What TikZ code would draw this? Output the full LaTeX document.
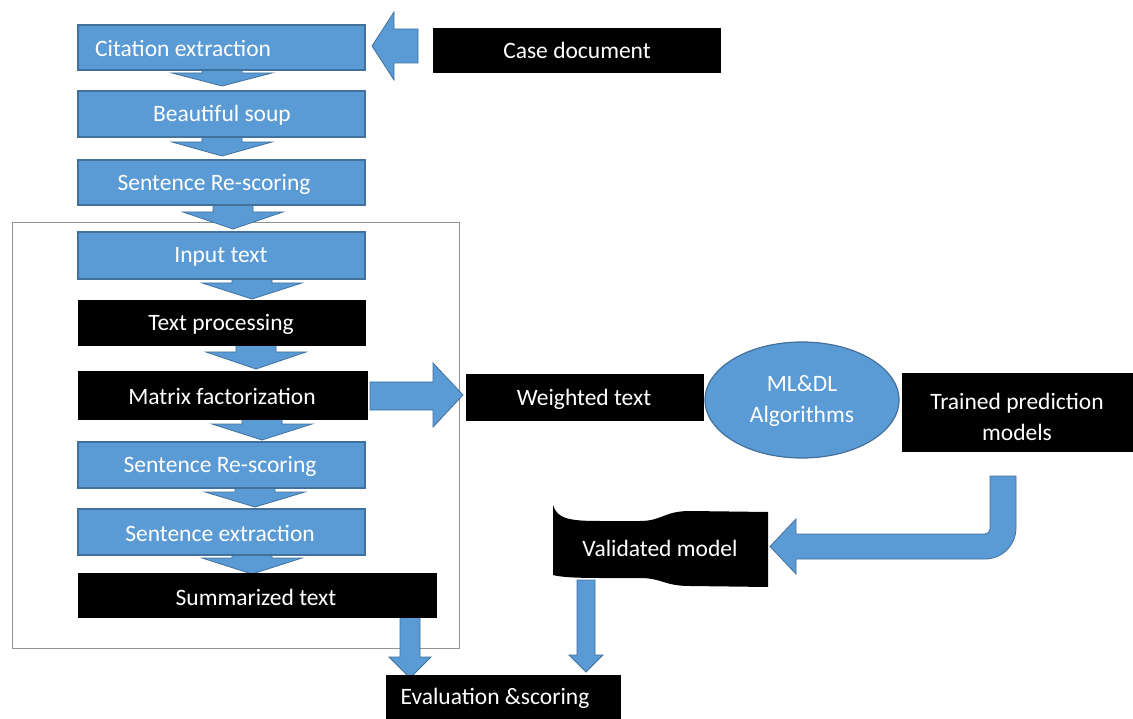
\documentclass[tikz,border=0pt]{standalone}
\usepackage{fontspec}
\setmainfont{Carlito}
\usetikzlibrary{shapes.geometric}
\definecolor{obl}{HTML}{5B9BD5}
\definecolor{obd}{HTML}{41719C}
\tikzset{
  bluebox/.style={draw=obd, line width=1.2pt, fill=obl, inner sep=0pt},
  blackbox/.style={draw=black, fill=black, inner sep=0pt},
  txt/.style={text=white, font=\fontsize{23.5}{31}\selectfont, inner sep=0pt, align=center},
  barrow/.style={fill=obl, draw=obd, line width=0.8pt, line join=miter},
  framebox/.style={draw=gray!85, line width=1pt}
}
% #1 centre x, #2 top y, #3 head base y, #4 tip y, #5 shaft half width, #6 head half width
\newcommand\dnblock[6]{%
  \filldraw[barrow] ({#1-#5},#2) -- ({#1-#5},#3) -- ({#1-#6},#3) -- (#1,#4) -- ({#1+#6},#3) -- ({#1+#5},#3) -- ({#1+#5},#2) -- cycle;}
\begin{document}
\begin{tikzpicture}[x=1pt,y=-1pt]
\useasboundingbox (0,0) rectangle (1133,719);
\fill[white] (0,0) rectangle (1133,719);

% frame
\draw[framebox] (12,223) rectangle (459,648);

% down block arrows in the left column
\dnblock{222}{68}{73}{86}{20}{50}
\dnblock{222}{135}{142}{156}{20}{50}
\dnblock{233}{203}{212}{229}{20}{50}
\dnblock{252}{277}{283}{299}{20}{50}
\dnblock{256}{343}{352}{369}{20}{50}
\dnblock{262}{417}{424}{440}{20}{50}
\dnblock{255}{486}{492}{507}{20}{50}
\dnblock{252}{553}{558}{574}{20}{50}
\dnblock{410}{614}{657}{678}{10}{21}
\dnblock{586}{580}{655}{672}{9}{17}

% case document -> citation extraction
\filldraw[barrow] (418,29) -- (394,29) -- (394,12) -- (372,46) -- (394,80) -- (394,63) -- (418,63) -- cycle;
% matrix factorization -> weighted text
\filldraw[barrow] (370,382) -- (433,382) -- (433,363) -- (463,395) -- (433,427) -- (433,410) -- (370,410) -- cycle;
% trained prediction models -> validated model (bent arrow)
\filldraw[barrow] (990,476) -- (1016,476) -- (1016,528)
  .. controls (1016,545.1) and (1002.1,559) .. (985,559)
  -- (796,559) -- (796,574) -- (770,546.5) -- (796,519) -- (796,534) -- (985,534)
  .. controls (987.8,534) and (990,531.8) .. (990,529) -- cycle;

% blue boxes
\node[bluebox, minimum width=287pt, minimum height=45pt] (cit) at (221.5,47.5) {};
\node[txt, anchor=west] (citt) at (95,48) {Citation extraction};
\node[bluebox, minimum width=287pt, minimum height=46pt] (soup) at (221.5,114) {};
\node[txt] at (222,115) {Beautiful soup};
\node[bluebox, minimum width=287pt, minimum height=45pt] (rs1) at (221.5,182.5) {};
\node[txt] at (214,184) {Sentence Re-scoring};
\node[bluebox, minimum width=287pt, minimum height=47pt] (inp) at (221.5,255.5) {};
\node[txt] at (221,257) {Input text};
\node[bluebox, minimum width=287pt, minimum height=46pt] (rs2) at (221.5,465) {};
\node[txt] at (220,466) {Sentence Re-scoring};
\node[bluebox, minimum width=287pt, minimum height=46pt] (se) at (221.5,532) {};
\node[txt] at (220,533) {Sentence extraction};

% black boxes
\node[blackbox, minimum width=287pt, minimum height=45pt] (tp) at (221.5,322.5) {};
\node[txt] at (221,324) {Text processing};
\node[blackbox, minimum width=289pt, minimum height=48pt] (mf) at (222.5,395) {};
\node[txt] at (222,396) {Matrix factorization};
\node[blackbox, minimum width=358pt, minimum height=44pt] (sum) at (257,595) {};
\node[txt] at (256,597) {Summarized text};
\node[blackbox, minimum width=287pt, minimum height=44pt] (case) at (576.5,50) {};
\node[txt] at (577,50) {Case document};
\node[blackbox, minimum width=237pt, minimum height=46pt] (wt) at (584.5,397) {};
\node[txt] at (584,399) {Weighted text};
\node[blackbox, minimum width=231pt, minimum height=78pt] (tr) at (1017.5,412) {};
\node[txt] at (1017,417) {Trained prediction\\models};
\node[blackbox, minimum width=234pt, minimum height=46pt] (ev) at (503,698) {};
\node[txt] at (495,698) {Evaluation \&scoring};

% ellipse
\node[ellipse, draw=obd, line width=1.2pt, fill=obl, minimum width=194pt, minimum height=116pt, inner sep=0pt] (ml) at (802,400) {};
\node[txt] at (802,401) {ML\&DL\\Algorithms};

% validated model (tape)
\fill[black] (553,505) .. controls (557,519) and (570,521) .. (600,521)
  -- (640,521) .. controls (662,521) and (664,511) .. (690,511) -- (768,512)
  -- (768,587) -- (690,586) .. controls (664,586) and (662,578) .. (640,578)
  -- (600,578) .. controls (575,578) and (560,577) .. (553,575) -- cycle;
\node[txt] (val) at (660,548) {Validated model};
\end{tikzpicture}
\end{document}
